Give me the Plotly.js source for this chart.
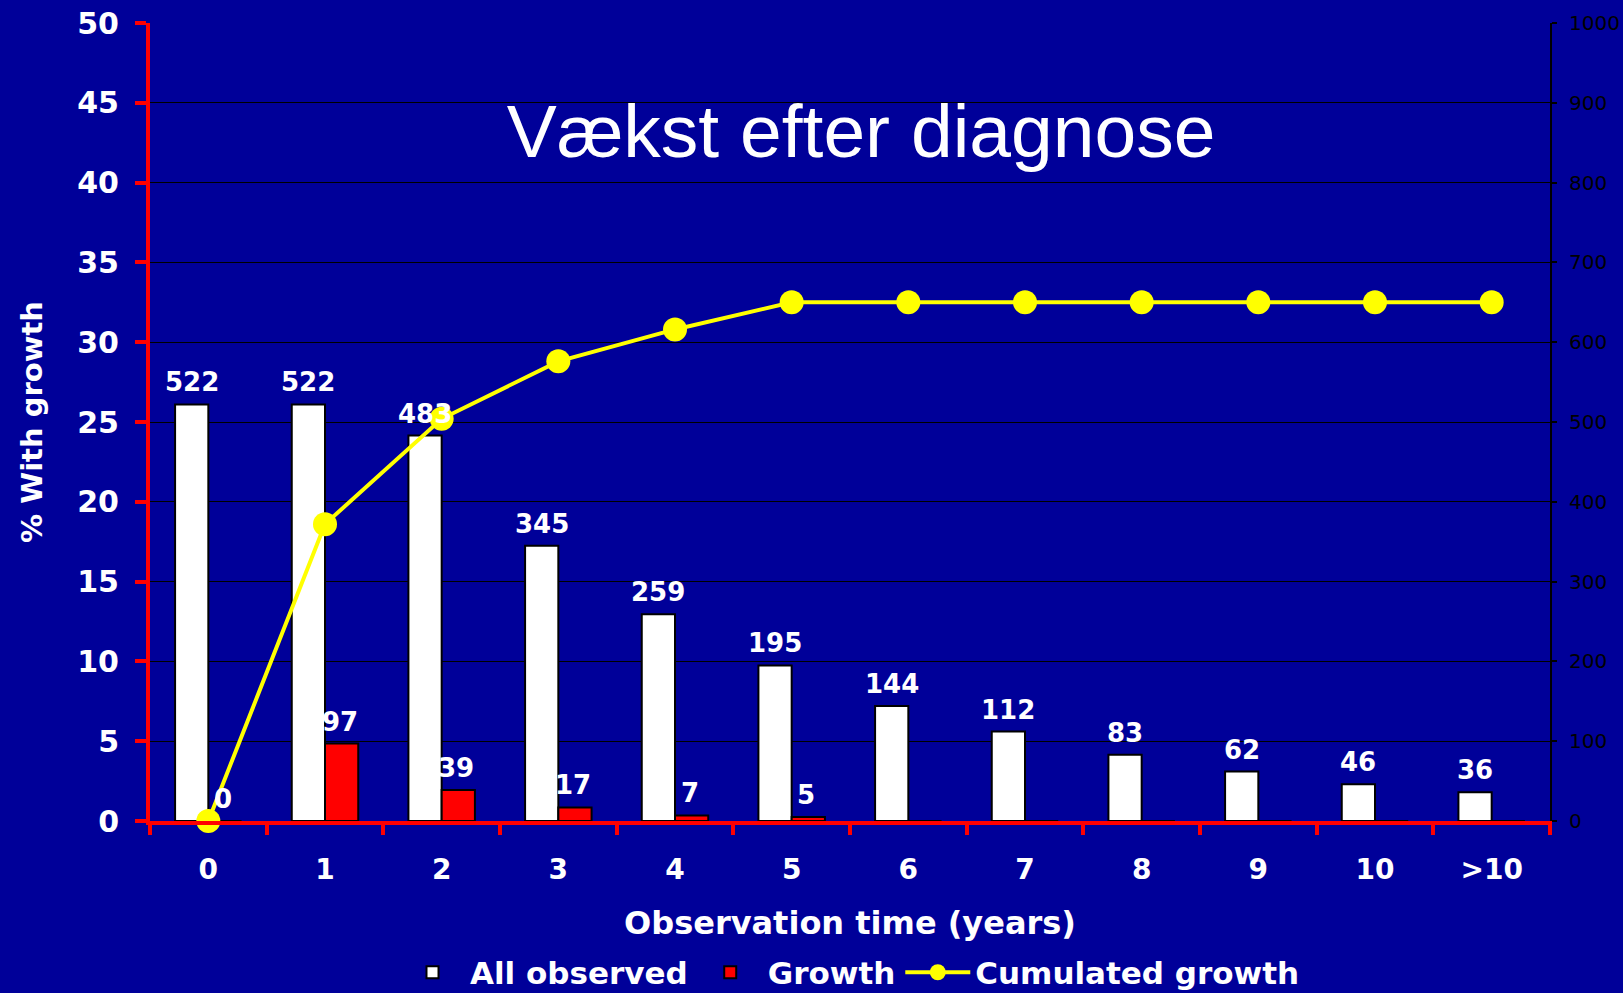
<!DOCTYPE html>
<html>
<head>
<meta charset="utf-8">
<script src="https://cdn.plot.ly/plotly-3.0.1.min.js"></script>
<style>html,body{margin:0;padding:0;background:#000099;}#chart{width:1623px;height:993px;}</style>
</head>
<body>
<div id="chart"></div>
<script>
// ---- data ----
var categories = ["0","1","2","3","4","5","6","7","8","9","10",">10"];
var allObserved = [522,522,483,345,259,195,144,112,83,62,46,36];
var growth = [0,97,39,17,7,5,0,0,0,0,0,0];
var growthLabels = ["0","97","39","17","7","5","","","","","",""];
var cumulatedGrowth = [0,18.6,25.2,28.8,30.8,32.5,32.5,32.5,32.5,32.5,32.5,32.5];
var leftTicks = [0,5,10,15,20,25,30,35,40,45,50];
var rightTicks = [0,100,200,300,400,500,600,700,800,900,1000];

var ARIAL = "Liberation Sans, Arial, sans-serif";
var WIDE = "DejaVu Sans, Verdana, sans-serif";
var BG = "#000099";

var traces = [
  {type:"bar", name:"All observed", x:categories, y:allObserved, yaxis:"y",
   marker:{color:"#ffffff", line:{color:"#000000", width:2}}, hoverinfo:"x+y"},
  {type:"bar", name:"Growth", x:categories, y:growth, yaxis:"y",
   marker:{color:"#ff0000", line:{color:"#000000", width:2}}, hoverinfo:"x+y"},
  {type:"scatter", mode:"lines+markers", name:"Cumulated growth", x:categories, y:cumulatedGrowth, yaxis:"y2",
   line:{color:"#ffff00", width:4}, marker:{color:"#ffff00", size:24}, cliponaxis:false}
];

var annotations = [];
var barShift = 16.6;
var labelFont = {family:WIDE, size:26, color:"#ffffff", weight:"bold"};
allObserved.forEach(function(v,i){
  annotations.push({xref:"x", yref:"y", x:categories[i], y:v, text:String(v), showarrow:false,
    xshift:-barShift, yshift:5, yanchor:"bottom", font:labelFont});
});
growth.forEach(function(v,i){
  if(growthLabels[i]==="") return;
  annotations.push({xref:"x", yref:"y", x:categories[i], y:v, text:growthLabels[i], showarrow:false,
    xshift:barShift-2, yshift:5, yanchor:"bottom", font:labelFont});
});

var layout = {
  width:1623, height:993,
  paper_bgcolor:BG, plot_bgcolor:BG,
  margin:{l:150, r:73, t:23, b:172, autoexpand:false},
  barmode:"group", bargap:0.43, bargroupgap:0,
  showlegend:true,
  title:{text:"Vækst efter diagnose", font:{family:ARIAL, size:75, color:"#ffffff"},
         x:861/1623, xanchor:"center", xref:"container", y:1-131/993, yanchor:"middle"},
  xaxis:{type:"category", categoryorder:"array", categoryarray:categories, range:[-0.5,11.5],
         showline:true, linecolor:"#ff0000", linewidth:4,
         ticks:"outside", tickson:"boundaries", ticklen:10, tickwidth:4, tickcolor:"#ff0000",
         ticklabelstandoff:20, showgrid:false, zeroline:false,
         tickfont:{family:WIDE, size:28, color:"#ffffff", weight:"bold"},
         title:{text:"Observation time (years)", standoff:28, font:{family:WIDE, size:32, color:"#ffffff", weight:"bold"}}},
  yaxis:{side:"right", range:[0,1000], tickmode:"array", tickvals:rightTicks,
         showline:true, linecolor:"#000000", linewidth:2,
         ticks:"outside", ticklen:5, tickwidth:2, tickcolor:"#000000",
         showgrid:true, gridcolor:"#000000", gridwidth:1, zeroline:false,
         ticklabelstandoff:8,
         tickfont:{family:WIDE, size:20, color:"#000000"}},
  yaxis2:{side:"left", overlaying:"y", range:[0,50], tickmode:"array", tickvals:leftTicks,
          showline:true, linecolor:"#ff0000", linewidth:4,
          ticks:"outside", ticklen:11, tickwidth:4, tickcolor:"#ff0000",
          showgrid:false, zeroline:false, ticklabelstandoff:10,
          tickfont:{family:WIDE, size:30, color:"#ffffff", weight:"bold"},
          title:{text:"% With growth", standoff:27, font:{family:WIDE, size:29, color:"#ffffff", weight:"bold"}}},
  legend:{orientation:"h", x:0.5, xanchor:"center", y:-0.19, yanchor:"middle",
          font:{family:WIDE, size:31, color:"#ffffff", weight:"bold"}, bgcolor:"rgba(0,0,0,0)",
          itemwidth:65, traceorder:"normal"},
  annotations:annotations
};

Plotly.newPlot("chart", traces, layout, {displayModeBar:false, staticPlot:true});
</script>
</body>
</html>
